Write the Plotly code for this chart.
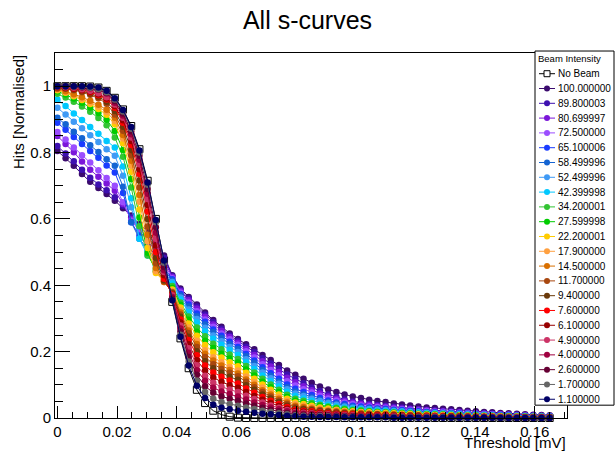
import plotly.graph_objects as go

# ---------------- data ----------------
threshold = [0, 0.00275, 0.0055, 0.00825, 0.011, 0.01375, 0.0165, 0.01925, 0.022, 0.02475,
             0.0275, 0.03025, 0.033, 0.03575, 0.0385, 0.04125, 0.044, 0.04675, 0.0495, 0.05225,
             0.055, 0.05775, 0.0605, 0.06325, 0.066, 0.06875, 0.0715, 0.07425, 0.077, 0.07975,
             0.0825, 0.08525, 0.088, 0.09075, 0.0935, 0.09625, 0.099, 0.10175, 0.1045, 0.10725,
             0.11, 0.11275, 0.1155, 0.11825, 0.121, 0.12375, 0.1265, 0.12925, 0.132, 0.13475,
             0.1375, 0.14025, 0.143, 0.14575, 0.1485, 0.15125, 0.154, 0.15675, 0.1595, 0.16225,
             0.165]

series_names = ["No Beam", "100.000000", "89.800003", "80.699997", "72.500000", "65.100006",
                "58.499996", "52.499996", "42.399998", "34.200001", "27.599998", "22.200001",
                "17.900000", "14.500000", "11.700000", "9.400000", "7.600000", "6.100000",
                "4.900000", "4.000000", "2.600000", "1.700000", "1.100000"]

series_colors = ["#000000", "#3b0b6e", "#3d10b0", "#7b16d9", "#9b4dff", "#1a3cff",
                 "#1464d2", "#3f9af5", "#00c8ff", "#33c433", "#00cc00", "#ffcc00",
                 "#ffa040", "#d97000", "#a8470f", "#6b3a0a", "#ff0000", "#990000",
                 "#cc3366", "#a00040", "#660033", "#666666", "#000066"]

y_nobeam = [1.0, 1.0, 1.0, 1.0, 0.999, 0.996, 0.986, 0.965, 0.93, 0.88, 0.81, 0.715, 0.6, 0.475, 0.35,
            0.24, 0.15, 0.085, 0.045, 0.022, 0.01, 0.004, 0.001,
            0, 0, 0, 0, 0, 0, 0, 0, 0, 0, 0, 0, 0,
            0, 0, 0, 0, 0, 0, 0, 0, 0, 0, 0, 0, 0, 0, 0, 0, 0, 0, 0, 0, 0, 0, 0, 0, 0]
y_100 = [0.805, 0.783, 0.76, 0.735, 0.712, 0.693, 0.675, 0.655, 0.632, 0.61, 0.585, 0.562, 0.535, 0.49, 0.43,
         0.39, 0.365, 0.342, 0.318, 0.295, 0.275, 0.255, 0.238,
         0.222, 0.207, 0.19, 0.175, 0.16, 0.143, 0.13, 0.118, 0.106, 0.095, 0.086, 0.078, 0.071,
         0.065, 0.06, 0.055, 0.051, 0.048, 0.044, 0.041, 0.038, 0.035, 0.032, 0.03, 0.028, 0.026,
         0.024, 0.022, 0.02, 0.018, 0.017, 0.015, 0.014, 0.013, 0.011, 0.01, 0.009, 0.008]
y_89_8 = [0.82, 0.797, 0.774, 0.748, 0.724, 0.704, 0.686, 0.665, 0.64, 0.605, 0.578, 0.55, 0.525, 0.483, 0.428,
          0.386, 0.36, 0.336, 0.312, 0.289, 0.269, 0.249, 0.233,
          0.215, 0.199, 0.18, 0.164, 0.149, 0.131, 0.118, 0.105, 0.092, 0.081, 0.071, 0.063, 0.056,
          0.05, 0.046, 0.042, 0.039, 0.037, 0.034, 0.032, 0.029, 0.027, 0.025, 0.023, 0.022, 0.02,
          0.019, 0.017, 0.015, 0.014, 0.013, 0.012, 0.011, 0.01, 0.008, 0.008, 0.007, 0.006]
y_80_7 = [0.85, 0.826, 0.801, 0.773, 0.748, 0.727, 0.707, 0.685, 0.645, 0.6, 0.57, 0.545, 0.515, 0.475, 0.425,
          0.383, 0.355, 0.33, 0.305, 0.282, 0.263, 0.244, 0.227,
          0.208, 0.19, 0.171, 0.155, 0.139, 0.121, 0.108, 0.096, 0.084, 0.074, 0.065, 0.058, 0.051,
          0.046, 0.042, 0.039, 0.036, 0.034, 0.031, 0.029, 0.027, 0.025, 0.023, 0.021, 0.02, 0.018,
          0.017, 0.016, 0.014, 0.013, 0.012, 0.011, 0.01, 0.009, 0.008, 0.007, 0.006, 0.006]
y_72_5 = [0.862, 0.839, 0.815, 0.792, 0.77, 0.747, 0.723, 0.7, 0.65, 0.595, 0.565, 0.535, 0.503, 0.465, 0.421,
          0.378, 0.348, 0.322, 0.297, 0.275, 0.255, 0.237, 0.221,
          0.201, 0.182, 0.162, 0.145, 0.129, 0.111, 0.098, 0.087, 0.077, 0.067, 0.059, 0.053, 0.047,
          0.042, 0.038, 0.035, 0.033, 0.031, 0.028, 0.026, 0.024, 0.022, 0.021, 0.019, 0.018, 0.017,
          0.015, 0.014, 0.013, 0.012, 0.011, 0.01, 0.009, 0.008, 0.007, 0.006, 0.006, 0.005]
y_65_1 = [0.89, 0.869, 0.847, 0.826, 0.805, 0.784, 0.761, 0.74, 0.678, 0.59, 0.55, 0.518, 0.49, 0.455, 0.418,
          0.374, 0.342, 0.315, 0.29, 0.267, 0.248, 0.23, 0.214,
          0.193, 0.173, 0.153, 0.135, 0.118, 0.101, 0.088, 0.078, 0.069, 0.06, 0.053, 0.047, 0.042,
          0.037, 0.035, 0.032, 0.029, 0.028, 0.025, 0.024, 0.022, 0.02, 0.018, 0.017, 0.016, 0.015,
          0.014, 0.013, 0.012, 0.01, 0.01, 0.009, 0.008, 0.007, 0.006, 0.006, 0.005, 0.005]
y_58_5 = [0.905, 0.885, 0.863, 0.843, 0.822, 0.802, 0.78, 0.76, 0.697, 0.59, 0.54, 0.508, 0.48, 0.447, 0.414,
          0.369, 0.336, 0.307, 0.282, 0.259, 0.241, 0.223, 0.208,
          0.186, 0.166, 0.145, 0.127, 0.11, 0.093, 0.08, 0.071, 0.062, 0.055, 0.048, 0.043, 0.038,
          0.034, 0.031, 0.029, 0.027, 0.025, 0.023, 0.021, 0.02, 0.018, 0.017, 0.016, 0.015, 0.014,
          0.013, 0.012, 0.01, 0.009, 0.009, 0.008, 0.007, 0.007, 0.006, 0.005, 0.005, 0.004]
y_52_5 = [0.935, 0.915, 0.893, 0.873, 0.852, 0.832, 0.81, 0.79, 0.73, 0.635, 0.54, 0.5, 0.47, 0.44, 0.41,
          0.363, 0.327, 0.298, 0.272, 0.249, 0.231, 0.214, 0.199,
          0.177, 0.157, 0.137, 0.12, 0.103, 0.087, 0.074, 0.066, 0.058, 0.051, 0.045, 0.04, 0.035,
          0.031, 0.029, 0.027, 0.025, 0.023, 0.021, 0.02, 0.018, 0.017, 0.015, 0.015, 0.014, 0.013,
          0.012, 0.011, 0.01, 0.009, 0.008, 0.007, 0.007, 0.006, 0.005, 0.005, 0.004, 0.004]
y_42_4 = [0.96, 0.94, 0.918, 0.898, 0.877, 0.857, 0.835, 0.815, 0.758, 0.662, 0.54, 0.49, 0.46, 0.433, 0.405,
          0.357, 0.319, 0.288, 0.261, 0.239, 0.221, 0.205, 0.19,
          0.168, 0.148, 0.128, 0.111, 0.095, 0.079, 0.066, 0.059, 0.052, 0.045, 0.04, 0.035, 0.031,
          0.028, 0.026, 0.024, 0.022, 0.021, 0.019, 0.018, 0.016, 0.015, 0.014, 0.013, 0.012, 0.011,
          0.01, 0.01, 0.009, 0.008, 0.007, 0.006, 0.006, 0.006, 0.005, 0.004, 0.004, 0.003]
y_34_2 = [0.977, 0.966, 0.953, 0.939, 0.923, 0.904, 0.882, 0.845, 0.787, 0.695, 0.578, 0.49, 0.45, 0.425, 0.398,
          0.348, 0.306, 0.273, 0.246, 0.224, 0.207, 0.191, 0.178,
          0.157, 0.137, 0.118, 0.101, 0.085, 0.07, 0.058, 0.052, 0.045, 0.04, 0.035, 0.031, 0.028,
          0.025, 0.023, 0.021, 0.019, 0.018, 0.017, 0.016, 0.014, 0.013, 0.012, 0.011, 0.011, 0.01,
          0.009, 0.008, 0.008, 0.007, 0.006, 0.006, 0.005, 0.005, 0.004, 0.004, 0.003, 0.003]
y_27_6 = [0.985, 0.975, 0.963, 0.95, 0.936, 0.919, 0.899, 0.865, 0.808, 0.72, 0.604, 0.498, 0.442, 0.418, 0.392,
          0.341, 0.296, 0.26, 0.233, 0.211, 0.194, 0.179, 0.167,
          0.146, 0.128, 0.109, 0.093, 0.078, 0.063, 0.052, 0.046, 0.041, 0.036, 0.032, 0.028, 0.025,
          0.022, 0.02, 0.019, 0.017, 0.016, 0.015, 0.014, 0.013, 0.012, 0.011, 0.01, 0.01, 0.009,
          0.008, 0.007, 0.007, 0.006, 0.006, 0.005, 0.005, 0.004, 0.004, 0.003, 0.003, 0.003]
y_22_2 = [0.988, 0.98, 0.97, 0.958, 0.946, 0.931, 0.914, 0.885, 0.828, 0.742, 0.628, 0.512, 0.437, 0.412, 0.387,
          0.333, 0.285, 0.248, 0.22, 0.198, 0.182, 0.168, 0.156,
          0.136, 0.118, 0.101, 0.085, 0.071, 0.058, 0.047, 0.042, 0.037, 0.032, 0.029, 0.025, 0.022,
          0.02, 0.018, 0.017, 0.016, 0.015, 0.014, 0.013, 0.012, 0.011, 0.01, 0.009, 0.009, 0.008,
          0.007, 0.007, 0.006, 0.006, 0.005, 0.005, 0.004, 0.004, 0.003, 0.003, 0.003, 0.002]
y_17_9 = [0.99, 0.982, 0.973, 0.962, 0.951, 0.938, 0.922, 0.895, 0.842, 0.76, 0.652, 0.533, 0.442, 0.41, 0.383,
          0.324, 0.273, 0.233, 0.204, 0.183, 0.168, 0.154, 0.143,
          0.125, 0.108, 0.092, 0.077, 0.064, 0.052, 0.042, 0.037, 0.033, 0.029, 0.025, 0.023, 0.02,
          0.018, 0.017, 0.015, 0.014, 0.013, 0.012, 0.011, 0.01, 0.01, 0.009, 0.008, 0.008, 0.007,
          0.007, 0.006, 0.006, 0.005, 0.005, 0.004, 0.004, 0.004, 0.003, 0.003, 0.002, 0.002]
y_14_5 = [0.992, 0.985, 0.976, 0.967, 0.956, 0.944, 0.929, 0.905, 0.853, 0.775, 0.672, 0.552, 0.452, 0.41, 0.38,
          0.318, 0.264, 0.223, 0.194, 0.173, 0.158, 0.145, 0.134,
          0.116, 0.1, 0.084, 0.071, 0.058, 0.047, 0.037, 0.033, 0.029, 0.025, 0.022, 0.02, 0.018,
          0.016, 0.015, 0.013, 0.012, 0.012, 0.011, 0.01, 0.009, 0.008, 0.008, 0.007, 0.007, 0.006,
          0.006, 0.005, 0.005, 0.004, 0.004, 0.004, 0.003, 0.003, 0.003, 0.002, 0.002, 0.002]
y_11_7 = [0.994, 0.992, 0.988, 0.982, 0.974, 0.964, 0.947, 0.915, 0.866, 0.792, 0.695, 0.577, 0.466, 0.412, 0.378,
          0.312, 0.256, 0.214, 0.184, 0.162, 0.148, 0.136, 0.126,
          0.109, 0.093, 0.078, 0.065, 0.053, 0.042, 0.033, 0.029, 0.026, 0.023, 0.02, 0.018, 0.016,
          0.014, 0.013, 0.012, 0.011, 0.01, 0.01, 0.009, 0.008, 0.008, 0.007, 0.006, 0.006, 0.006,
          0.005, 0.005, 0.004, 0.004, 0.004, 0.003, 0.003, 0.003, 0.002, 0.002, 0.002, 0.002]
y_9_4 = [0.996, 0.994, 0.99, 0.985, 0.978, 0.969, 0.953, 0.925, 0.878, 0.808, 0.716, 0.6, 0.482, 0.415, 0.375,
         0.305, 0.245, 0.201, 0.171, 0.15, 0.136, 0.124, 0.115,
         0.099, 0.085, 0.071, 0.059, 0.048, 0.037, 0.029, 0.026, 0.023, 0.02, 0.018, 0.016, 0.014,
         0.012, 0.011, 0.01, 0.01, 0.009, 0.008, 0.008, 0.007, 0.007, 0.006, 0.006, 0.005, 0.005,
         0.005, 0.004, 0.004, 0.003, 0.003, 0.003, 0.003, 0.002, 0.002, 0.002, 0.002, 0.002]
y_7_6 = [0.997, 0.995, 0.992, 0.988, 0.982, 0.973, 0.96, 0.935, 0.89, 0.823, 0.735, 0.622, 0.5, 0.42, 0.372,
         0.297, 0.235, 0.189, 0.158, 0.137, 0.124, 0.113, 0.104,
         0.089, 0.076, 0.063, 0.052, 0.042, 0.033, 0.025, 0.022, 0.02, 0.017, 0.015, 0.013, 0.012,
         0.011, 0.01, 0.009, 0.008, 0.008, 0.007, 0.007, 0.006, 0.006, 0.005, 0.005, 0.005, 0.004,
         0.004, 0.004, 0.003, 0.003, 0.003, 0.002, 0.002, 0.002, 0.002, 0.002, 0.002, 0.001]
y_6_1 = [0.998, 0.996, 0.993, 0.989, 0.984, 0.976, 0.963, 0.94, 0.897, 0.835, 0.75, 0.642, 0.52, 0.43, 0.37,
         0.288, 0.222, 0.174, 0.143, 0.122, 0.109, 0.099, 0.091,
         0.078, 0.066, 0.055, 0.045, 0.036, 0.028, 0.021, 0.019, 0.016, 0.014, 0.013, 0.011, 0.01,
         0.009, 0.008, 0.008, 0.007, 0.007, 0.006, 0.006, 0.005, 0.005, 0.004, 0.004, 0.004, 0.004,
         0.003, 0.003, 0.003, 0.003, 0.002, 0.002, 0.002, 0.002, 0.002, 0.001, 0.001, 0.001]
y_4_9 = [0.999, 0.997, 0.995, 0.991, 0.986, 0.979, 0.967, 0.945, 0.905, 0.845, 0.765, 0.66, 0.54, 0.44, 0.37,
         0.279, 0.21, 0.159, 0.127, 0.106, 0.094, 0.086, 0.078,
         0.067, 0.057, 0.047, 0.038, 0.031, 0.024, 0.018, 0.016, 0.014, 0.012, 0.011, 0.01, 0.009,
         0.008, 0.007, 0.006, 0.006, 0.006, 0.005, 0.005, 0.004, 0.004, 0.004, 0.004, 0.003, 0.003,
         0.003, 0.003, 0.002, 0.002, 0.002, 0.002, 0.002, 0.002, 0.001, 0.001, 0.001, 0.001]
y_4_0 = [1.0, 1.0, 0.999, 0.997, 0.994, 0.989, 0.978, 0.95, 0.912, 0.855, 0.778, 0.676, 0.558, 0.445, 0.365,
         0.27, 0.197, 0.144, 0.112, 0.091, 0.08, 0.072, 0.065,
         0.056, 0.047, 0.039, 0.032, 0.026, 0.02, 0.015, 0.013, 0.012, 0.01, 0.009, 0.008, 0.007,
         0.006, 0.006, 0.005, 0.005, 0.005, 0.004, 0.004, 0.004, 0.003, 0.003, 0.003, 0.003, 0.003,
         0.002, 0.002, 0.002, 0.002, 0.002, 0.002, 0.001, 0.001, 0.001, 0.001, 0.001, 0.001]
y_2_6 = [1.0, 1.0, 0.999, 0.997, 0.995, 0.99, 0.98, 0.955, 0.918, 0.864, 0.79, 0.69, 0.575, 0.455, 0.36,
         0.261, 0.184, 0.13, 0.096, 0.076, 0.065, 0.058, 0.052,
         0.044, 0.037, 0.031, 0.025, 0.02, 0.015, 0.011, 0.01, 0.009, 0.008, 0.007, 0.006, 0.005,
         0.005, 0.004, 0.004, 0.004, 0.003, 0.003, 0.003, 0.003, 0.003, 0.002, 0.002, 0.002, 0.002,
         0.002, 0.002, 0.001, 0.001, 0.001, 0.001, 0.001, 0.001, 0.001, 0.001, 0.001, 0.001]
y_1_7 = [1.0, 1.0, 0.999, 0.998, 0.995, 0.991, 0.982, 0.96, 0.924, 0.872, 0.8, 0.703, 0.59, 0.468, 0.355,
         0.251, 0.17, 0.112, 0.078, 0.058, 0.048, 0.042, 0.037,
         0.032, 0.027, 0.022, 0.018, 0.014, 0.011, 0.008, 0.007, 0.006, 0.006, 0.005, 0.004, 0.004,
         0.003, 0.003, 0.003, 0.003, 0.003, 0.002, 0.002, 0.002, 0.002, 0.002, 0.002, 0.002, 0.001,
         0.001, 0.001, 0.001, 0.001, 0.001, 0.001, 0.001, 0.001, 0.001, 0.001, 0, 0]
y_1_1 = [1.0, 1.0, 1.0, 1.0, 0.999, 0.996, 0.986, 0.964, 0.928, 0.877, 0.806, 0.71, 0.597, 0.475, 0.355,
         0.245, 0.158, 0.097, 0.06, 0.04, 0.031, 0.026, 0.022,
         0.019, 0.016, 0.013, 0.011, 0.009, 0.007, 0.005, 0.004, 0.004, 0.003, 0.003, 0.003, 0.002,
         0.002, 0.002, 0.002, 0.002, 0.002, 0.001, 0.001, 0.001, 0.001, 0.001, 0.001, 0.001, 0.001,
         0.001, 0.001, 0.001, 0.001, 0.001, 0, 0, 0, 0, 0, 0, 0]

series_values = [y_nobeam, y_100, y_89_8, y_80_7, y_72_5, y_65_1, y_58_5, y_52_5, y_42_4,
                 y_34_2, y_27_6, y_22_2, y_17_9, y_14_5, y_11_7, y_9_4, y_7_6, y_6_1, y_4_9,
                 y_4_0, y_2_6, y_1_7, y_1_1]

for nm, vals in zip(series_names, series_values):
    if len(vals) != len(threshold):
        raise ValueError(f"{nm}: {len(vals)} values")

# ---------------- figure ----------------
W, H = 615, 452
ML, MR, MT, MB = 55, 48, 53, 29
PW, PH = W - ML - MR, H - MT - MB
FONT = "Liberation Sans, Arial, Helvetica, sans-serif"


def px_x(px):
    return (px - ML) / PW


def px_y(py):
    return (H - MB - py) / PH


fig = go.Figure()
for nm, col, vals in zip(series_names, series_colors, series_values):
    if nm == "No Beam":
        marker = dict(symbol="square-open", size=7, color=col, line=dict(width=1, color=col))
    else:
        marker = dict(symbol="circle", size=6.5, color=col, line=dict(width=0))
    fig.add_trace(go.Scatter(x=threshold, y=vals, mode="lines+markers", name=nm,
                             line=dict(color=col, width=1), marker=marker,
                             cliponaxis=False, showlegend=False))

shapes = []
annotations = []

# legend box (ROOT style)
lx0, lx1, ly0, ly1 = 535, 614, 51, 410
shapes.append(dict(type="rect", xref="paper", yref="paper", x0=px_x(lx0), x1=px_x(lx1),
                   y0=px_y(ly1), y1=px_y(ly0), line=dict(color="black", width=1),
                   fillcolor="white", layer="above"))
annotations.append(dict(text="Beam Intensity", xref="paper", yref="paper", x=px_x(536),
                        y=px_y(59), xanchor="left", yanchor="middle", showarrow=False,
                        font=dict(family=FONT, size=9.5, color="black")))
for j, (nm, col) in enumerate(zip(series_names, series_colors)):
    ry = 74 + 15 * j
    shapes.append(dict(type="line", xref="paper", yref="paper", x0=px_x(539), x1=px_x(555),
                       y0=px_y(ry), y1=px_y(ry), line=dict(color=col, width=1), layer="above"))
    if nm == "No Beam":
        shapes.append(dict(type="rect", xref="paper", yref="paper", xsizemode="pixel",
                           ysizemode="pixel", xanchor=px_x(547), yanchor=px_y(ry),
                           x0=-3, x1=3, y0=-3, y1=3, line=dict(color=col, width=1),
                           fillcolor="white", layer="above"))
    else:
        shapes.append(dict(type="circle", xref="paper", yref="paper", xsizemode="pixel",
                           ysizemode="pixel", xanchor=px_x(547), yanchor=px_y(ry),
                           x0=-3, x1=3, y0=-3, y1=3, line=dict(color=col, width=0),
                           fillcolor=col, layer="above"))
    annotations.append(dict(text=nm, xref="paper", yref="paper", x=px_x(556), y=px_y(ry),
                            xanchor="left", yanchor="middle", showarrow=False,
                            font=dict(family=FONT, size=10, color="black")))

# axis titles
annotations.append(dict(text="Threshold [mV]", xref="paper", yref="paper", x=px_x(567),
                        y=px_y(438), xanchor="right", yanchor="top", showarrow=False,
                        borderpad=0, font=dict(family=FONT, size=15, color="black")))
annotations.append(dict(text="Hits [Normalised]", xref="paper", yref="paper", x=px_x(18),
                        y=px_y(53), xanchor="center", yanchor="top", textangle=-90,
                        showarrow=False, font=dict(family=FONT, size=15, color="black")))

axis_common = dict(showline=True, linecolor="black", linewidth=1, mirror=True,
                   ticks="inside", tickcolor="black", tickwidth=1, showgrid=False,
                   zeroline=False, tickfont=dict(family=FONT, size=15, color="black"))

fig.update_layout(
    width=W, height=H,
    margin=dict(l=ML, r=MR, t=MT, b=MB),
    paper_bgcolor="white", plot_bgcolor="white",
    title=dict(text="All s-curves", x=0.5, xanchor="center", xref="container",
               y=1 - 20 / H, yanchor="middle", yref="container",
               font=dict(family=FONT, size=25, color="black")),
    xaxis=dict(range=[-0.0008, 0.1708], dtick=0.02, tick0=0, ticklen=12,
               minor=dict(ticks="inside", ticklen=6, dtick=0.005, tickcolor="black",
                          tickwidth=1, showgrid=False),
               **axis_common),
    yaxis=dict(range=[0, 1.1], dtick=0.2, tick0=0, ticklen=15,
               minor=dict(ticks="inside", ticklen=8, dtick=0.05, tickcolor="black",
                          tickwidth=1, showgrid=False),
               **axis_common),
    shapes=shapes,
    annotations=annotations,
    showlegend=False,
    font=dict(family=FONT, color="black"),
)

fig.write_html("out.html", config={"displayModeBar": False})
